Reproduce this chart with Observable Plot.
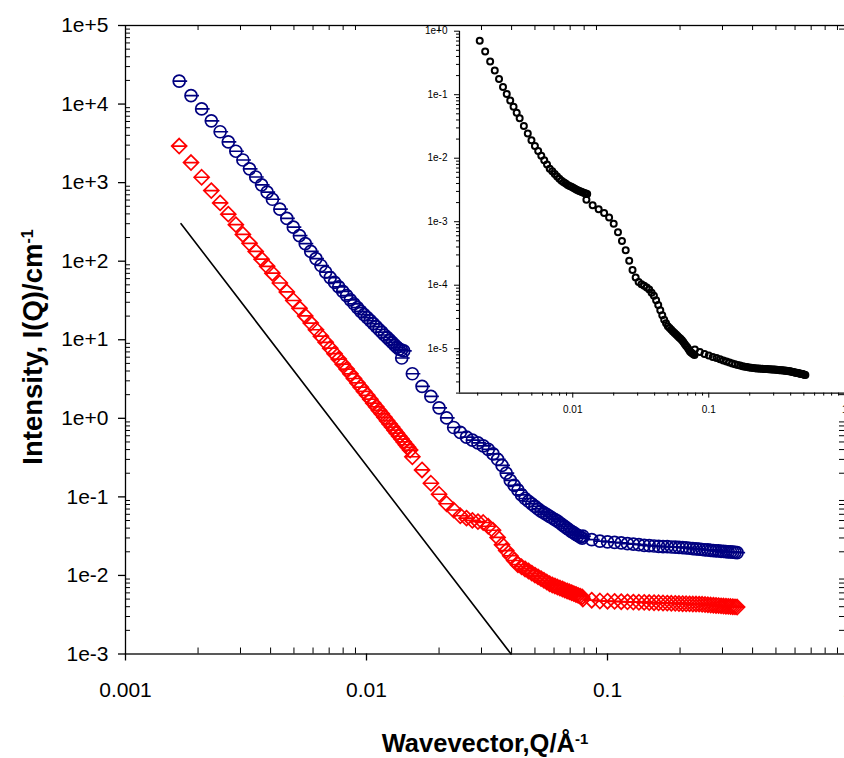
<!DOCTYPE html>
<html>
<head>
<meta charset="utf-8">
<script src="https://cdn.jsdelivr.net/npm/d3@7"></script>
<script src="https://cdn.jsdelivr.net/npm/@observablehq/plot@0.6"></script>
<style>
  html, body { margin: 0; padding: 0; background: #fff; overflow: hidden; }
  #wrap { position: relative; width: 844px; height: 758px; overflow: hidden; }
  #wrap svg { position: absolute; top: 0; max-width: none !important; }
</style>
</head>
<body>
<div id="wrap"></div>
<script>
// ---------------- data ----------------
const qLow = [0.00167, 0.00187, 0.00207, 0.00227, 0.00247, 0.00267, 0.00287, 0.00307, 0.00327, 0.00347, 0.00367, 0.00387, 0.00407,
  0.00437, 0.00467, 0.00497, 0.00527, 0.00557, 0.00587, 0.00617, 0.00647, 0.00677, 0.00707, 0.00737, 0.00767, 0.00797, 0.00827,
  0.00857, 0.00887, 0.00917, 0.00947, 0.00977, 0.01007, 0.01037, 0.01067, 0.01097, 0.01127, 0.01157, 0.01187, 0.01217, 0.01247,
  0.01277, 0.01307, 0.01337, 0.01367, 0.01397, 0.01427, 0.01457, 0.01487, 0.01517];
const qMid = [0.0126, 0.0140, 0.0155, 0.0170, 0.0185, 0.0200, 0.0215, 0.0230, 0.0245, 0.0260, 0.0275, 0.0290, 0.0305, 0.0320, 0.0335,
  0.0350, 0.0365, 0.0380, 0.0395, 0.0410, 0.0425, 0.0440, 0.0455, 0.0470, 0.0485, 0.0500, 0.0515, 0.0530, 0.0545, 0.0560,
  0.0575, 0.0590, 0.0605, 0.0620, 0.0635, 0.0650, 0.0665, 0.0680, 0.0695, 0.0710, 0.0725, 0.0740, 0.0755, 0.0770, 0.0785];
const qHigh = [0.079, 0.086, 0.093, 0.100, 0.107, 0.114, 0.121, 0.128, 0.135, 0.142, 0.149, 0.156, 0.163, 0.170, 0.177, 0.184,
  0.191, 0.198, 0.205, 0.212, 0.219, 0.226, 0.233, 0.240, 0.247, 0.254, 0.261, 0.268, 0.275, 0.282, 0.289, 0.296, 0.303, 0.310,
  0.317, 0.324, 0.331, 0.338, 0.345, 0.352, 0.359, 0.366, 0.373, 0.380, 0.387, 0.394, 0.401, 0.408, 0.415, 0.422, 0.429, 0.436,
  0.443, 0.450, 0.457, 0.464, 0.471, 0.478, 0.485, 0.492, 0.499, 0.506, 0.513];

// blue series (circles)
const blueLow = [19600, 12800, 8670, 6110, 4440, 3300, 2510, 1940, 1500, 1180, 938, 755, 614,
  459, 350, 271, 211, 167, 133, 108, 88.1, 72.6, 61.9, 53.7, 47.0, 41.2, 36.4, 32.2, 28.7, 25.6, 23.0,
  20.9, 19.1, 17.5, 16.0, 14.7, 13.5, 12.5, 11.5, 10.7, 9.94, 9.25, 8.61, 8.04, 7.6, 7.4, 7.2];
const blueMid = [null, 5.86, 3.69, 2.55, 1.90, 1.36, 1.01, 0.764, 0.661, 0.577, 0.527, 0.486, 0.445, 0.402, 0.352, 0.301,
  0.252, 0.201, 0.162, 0.140, 0.122, 0.106, 0.0953, 0.0879, 0.0815, 0.0755, 0.0703, 0.0658, 0.0624, 0.0593, 0.0565,
  0.0538, 0.0514, 0.0491, 0.0465, 0.0441, 0.0419, 0.0398, 0.0379, 0.0362, 0.0348, 0.0334, 0.0321, 0.0310, 0.0299];
const blueHigh = [0.0316, 0.0286, 0.0273, 0.0268, 0.0264, 0.0259, 0.0254, 0.0250, 0.0246, 0.0242, 0.0239, 0.0237,
  0.0235, 0.0233, 0.0232, 0.0230, 0.0229, 0.0228, 0.0226, 0.0224, 0.0222, 0.0220, 0.0218, 0.0216, 0.0214, 0.0212,
  0.0211, 0.0209, 0.0207, 0.0206, 0.0205, 0.0203, 0.0202, 0.0201, 0.0200, 0.0199, 0.0198, 0.0197, 0.0195];

// red series (diamonds)
const redLow = [2920, 1800, 1170, 791, 552, 397, 292, 219, 169, 133, 106, 86.1, 70.3,
  52.8, 40.6, 31.6, 25.1, 20.1, 16.3, 13.4, 11.1, 9.27, 7.82, 6.64, 5.68, 4.89, 4.23, 3.68, 3.21, 2.82, 2.49,
  2.20, 1.96, 1.75, 1.56, 1.40, 1.26, 1.14, 1.03, 0.933, 0.849, 0.773, 0.706, 0.647, 0.593,
  0.544, 0.501, 0.461, 0.427, 0.394];
const redMid = [null, null, 0.324, 0.220, 0.149, 0.108, 0.0818, 0.0681, 0.0575, 0.0536, 0.0502, 0.0484, 0.0472, 0.0423,
  0.0376, 0.0305, 0.0246, 0.0207, 0.0178, 0.0155, 0.0137, 0.0129, 0.0121, 0.0114, 0.0107, 0.0101, 0.00960, 0.00912,
  0.00867, 0.00824, 0.00785, 0.00757, 0.00735, 0.00713, 0.00692, 0.00673, 0.00653, 0.00635, 0.00619, 0.00603,
  0.00587, 0.00573, 0.00558, 0.00545, 0.00532];
const redHigh = [0.00501, 0.00484, 0.00473, 0.00470, 0.00467, 0.00463, 0.00461, 0.00458, 0.00456, 0.00454, 0.00452,
  0.00450, 0.00449, 0.00446, 0.00444, 0.00442, 0.00441, 0.00439, 0.00437, 0.00436, 0.00435, 0.00433, 0.00432,
  0.00431, 0.00429, 0.00426, 0.00423, 0.00420, 0.00418, 0.00415, 0.00413, 0.00410, 0.00408, 0.00406, 0.00404,
  0.00402, 0.00400, 0.00398, 0.00396];

// Porod (slope -4) guide line
const porodQ = [0.0017, 0.0398];
const porodI = [300, 0.001];

// inset series (black circles)
const insetLow = [null, null, 0.706, 0.478, 0.333, 0.240, 0.176, 0.132, 0.1026, 0.0807, 0.0646, 0.0522, 0.0427,
  0.0321, 0.0246, 0.0192, 0.0156, 0.0130, 0.0109, 0.00927, 0.00793, 0.00684, 0.00624, 0.00565, 0.00514, 0.00476,
  0.00443, 0.00419, 0.00398, 0.00380, 0.00366, 0.00354, 0.00342, 0.00330, 0.00320, 0.00311, 0.00303, 0.00295,
  0.00289, 0.00284, 0.00279, 0.00274];
const insetMid = [2.21e-3, 1.81e-3, 1.57e-3, 1.37e-3, 1.16e-3, 9.29e-4, 6.82e-4, 4.97e-4, 3.54e-4, 2.42e-4, 1.74e-4,
  1.32e-4, 1.12e-4, 1.04e-4, 9.79e-5, 9.19e-5, 8.55e-5, 7.62e-5, 6.81e-5, 5.79e-5, 4.86e-5,
  4.05e-5, 3.38e-5, 2.86e-5, 2.51e-5, 2.25e-5, 2.12e-5, 1.99e-5, 1.87e-5, 1.77e-5, 1.67e-5,
  1.58e-5, 1.50e-5, 1.43e-5, 1.36e-5, 1.27e-5, 1.19e-5, 1.11e-5, 1.05e-5, 9.77e-6, 9.14e-6,
  8.69e-6, 8.45e-6, 8.21e-6, 7.98e-6];
const insetHigh = [9.75e-6, 8.91e-6, 8.22e-6, 7.80e-6, 7.43e-6, 7.11e-6, 6.81e-6, 6.55e-6, 6.31e-6, 6.08e-6,
  5.87e-6, 5.70e-6, 5.56e-6, 5.42e-6, 5.30e-6, 5.20e-6, 5.14e-6, 5.07e-6, 5.01e-6, 4.95e-6,
  4.92e-6, 4.90e-6, 4.88e-6, 4.85e-6, 4.83e-6, 4.81e-6, 4.79e-6, 4.78e-6, 4.75e-6, 4.74e-6,
  4.72e-6, 4.71e-6, 4.69e-6, 4.67e-6, 4.65e-6, 4.62e-6, 4.60e-6, 4.58e-6, 4.56e-6, 4.54e-6,
  4.52e-6, 4.50e-6, 4.49e-6, 4.46e-6, 4.43e-6, 4.40e-6, 4.36e-6, 4.33e-6, 4.30e-6, 4.27e-6,
  4.23e-6, 4.20e-6, 4.17e-6, 4.14e-6, 4.11e-6, 4.08e-6, 4.05e-6, 4.02e-6, 3.99e-6, 3.96e-6,
  3.93e-6, 3.90e-6, 3.87e-6];

// tick values and labels
const xTicks = [0.001, 0.01, 0.1, 1];
const xTickLabels = ["0.001", "0.01", "0.1", "1"];
const yTicks = [1e-3, 1e-2, 1e-1, 1e0, 1e1, 1e2, 1e3, 1e4, 1e5];
const yTickLabels = ["1e-3", "1e-2", "1e-1", "1e+0", "1e+1", "1e+2", "1e+3", "1e+4", "1e+5"];
const insetXTicks = [0.01, 0.1, 1];
const insetXTickLabels = ["0.01", "0.1", "1"];
const insetYTicks = [1e-5, 1e-4, 1e-3, 1e-2, 1e-1, 1e0];
const insetYTickLabels = ["1e-5", "1e-4", "1e-3", "1e-2", "1e-1", "1e+0"];

const xTitle = "Wavevector,Q/Å";
const yTitle = "Intensity, I(Q)/cm";
const titleExp = "-1";

// ---------------- helpers ----------------
const rows = (qs, vals) => vals.map((v, i) => ({q: qs[i], I: v})).filter(d => d.I != null);
const blueRows = [...rows(qLow, blueLow), ...rows(qMid, blueMid), ...rows(qHigh, blueHigh)];
const redRows = [...rows(qLow, redLow), ...rows(qMid, redMid), ...rows(qHigh, redHigh)];
const insetRows = [...rows(qLow, insetLow), ...rows(qMid, insetMid), ...rows(qHigh, insetHigh)];
const porodRows = rows(porodQ, porodI);
const fmt = (ticks, labels) => { const m = new Map(ticks.map((t, i) => [t, labels[i]])); return d => m.get(d); };

// marker shapes with horizontal (q-resolution) bar
const circleBar = {draw(ctx, size) { const r = Math.sqrt(size / Math.PI);
  ctx.moveTo(r, 0); ctx.arc(0, 0, r, 0, 2 * Math.PI); ctx.moveTo(-r, 0); ctx.lineTo(r + 2, 0); }};
const diamondBar = {draw(ctx, size) { const s = Math.sqrt(size / Math.PI) * 1.25;
  ctx.moveTo(0, -s); ctx.lineTo(s, 0); ctx.lineTo(0, s); ctx.lineTo(-s, 0); ctx.closePath();
  ctx.moveTo(-s, 0); ctx.lineTo(s, 0); }};

const FONT = "'Liberation Sans', Arial, Helvetica, sans-serif";

// ---------------- main plot ----------------
const W = 860, H = 758, mL = 125, mR = 12, mT = 25, mB = 104.5;
const fW = W - mL - mR, fH = H - mT - mB;
const xDomain = [0.001, 1], yDomain = [1e-3, 1e5];
const xMinor = d3.scaleLog().domain(xDomain).ticks().filter(t => !xTicks.some(m => Math.abs(m - t) / m < 1e-9));
const yMinor = d3.scaleLog().domain(yDomain).ticks().filter(t => !yTicks.some(m => Math.abs(m - t) / m < 1e-9));

const main = Plot.plot({
  width: W, height: H, marginLeft: mL, marginRight: mR, marginTop: mT, marginBottom: mB,
  style: {fontFamily: FONT, background: "transparent", color: "#000"},
  x: {type: "log", domain: xDomain, label: null},
  y: {type: "log", domain: yDomain, label: null},
  marks: [
    Plot.frame({stroke: "#000", strokeWidth: 1.3}),
    Plot.tickX(xMinor, {x: d => d, insetTop: fH - 6, stroke: "#000", strokeWidth: 1}),
    Plot.tickX(xMinor, {x: d => d, insetBottom: fH - 5, stroke: "#000", strokeWidth: 1}),
    Plot.tickY(yMinor, {y: d => d, insetRight: fW - 5, stroke: "#000", strokeWidth: 1}),
    Plot.tickY(yMinor, {y: d => d, insetLeft: fW - 9, stroke: "#000", strokeWidth: 1}),
    Plot.axisX(xTicks, {tickSize: 7, tickPadding: 21, fontSize: 21, tickFormat: fmt(xTicks, xTickLabels), label: null, strokeWidth: 1.3}),
    Plot.axisY(yTicks, {tickSize: 7, tickPadding: 10, fontSize: 21, tickFormat: fmt(yTicks, yTickLabels), label: null, strokeWidth: 1.3}),
    Plot.line(porodRows, {x: "q", y: "I", stroke: "#000", strokeWidth: 1.6}),
    Plot.dot(redRows, {x: "q", y: "I", symbol: diamondBar, r: 6, fill: "none", stroke: "#ff0000", strokeWidth: 1.7}),
    Plot.dot(blueRows, {x: "q", y: "I", symbol: circleBar, r: 6, fill: "none", stroke: "#000080", strokeWidth: 1.7})
  ]
});
main.style.left = "0px";

// axis titles with superscripts
const ms = d3.select(main);
const xt = ms.append("text").attr("x", 485).attr("y", 752).attr("text-anchor", "middle")
  .attr("font-family", FONT).attr("font-weight", "bold").attr("font-size", 25.5).attr("fill", "#000");
xt.append("tspan").text(xTitle);
xt.append("tspan").attr("dy", "-0.55em").attr("font-size", 15).text(titleExp);
const yt = ms.append("text").attr("transform", "translate(42,347) rotate(-90)").attr("text-anchor", "middle")
  .attr("font-family", FONT).attr("font-weight", "bold").attr("font-size", 27.5).attr("fill", "#000");
yt.append("tspan").text(yTitle);
yt.append("tspan").attr("dy", "-0.55em").attr("font-size", 16).text(titleExp);

// ---------------- inset ----------------
const IW = 460, IH = 430, iL = 59, iT = 30.7, iR = IW - 444.3, iB = IH - 392.6;
const ifW = IW - iL - iR, ifH = IH - iT - iB;
const ixDomain = [0.00147, 1], iyDomain = [2e-6, 1];
const ixMinor = d3.scaleLog().domain(ixDomain).ticks().filter(t => !insetXTicks.some(m => Math.abs(m - t) / m < 1e-9));
const iyMinor = d3.scaleLog().domain(iyDomain).ticks().filter(t => !insetYTicks.some(m => Math.abs(m - t) / m < 1e-9));

const inset = Plot.plot({
  width: IW, height: IH, marginLeft: iL, marginRight: iR, marginTop: iT, marginBottom: iB,
  style: {fontFamily: FONT, background: "transparent", color: "#000", overflow: "visible"},
  x: {type: "log", domain: ixDomain, label: null},
  y: {type: "log", domain: iyDomain, label: null},
  marks: [
    Plot.frame({fill: "#fff", stroke: "none"}),
    Plot.ruleX([ixDomain[0]], {stroke: "#000", strokeWidth: 1.2}),
    Plot.ruleY([iyDomain[0]], {stroke: "#000", strokeWidth: 1.2}),
    Plot.tickX(ixMinor, {x: d => d, insetTop: ifH, insetBottom: -3, stroke: "#000", strokeWidth: 1}),
    Plot.tickY(iyMinor, {y: d => d, insetRight: ifW, insetLeft: -3, stroke: "#000", strokeWidth: 1}),
    Plot.axisX(insetXTicks, {tickSize: 5, tickPadding: 8, fontSize: 10, tickFormat: fmt(insetXTicks, insetXTickLabels), label: null}),
    Plot.axisY(insetYTicks, {tickSize: 5, tickPadding: 7, fontSize: 10, tickFormat: fmt(insetYTicks, insetYTickLabels), label: null}),
    Plot.dot(insetRows, {x: "q", y: "I", r: 3, fill: "none", stroke: "#000", strokeWidth: 2})
  ]
});
inset.style.left = "400px";

const wrap = document.getElementById("wrap");
wrap.appendChild(main);
wrap.appendChild(inset);
</script>
</body>
</html>
